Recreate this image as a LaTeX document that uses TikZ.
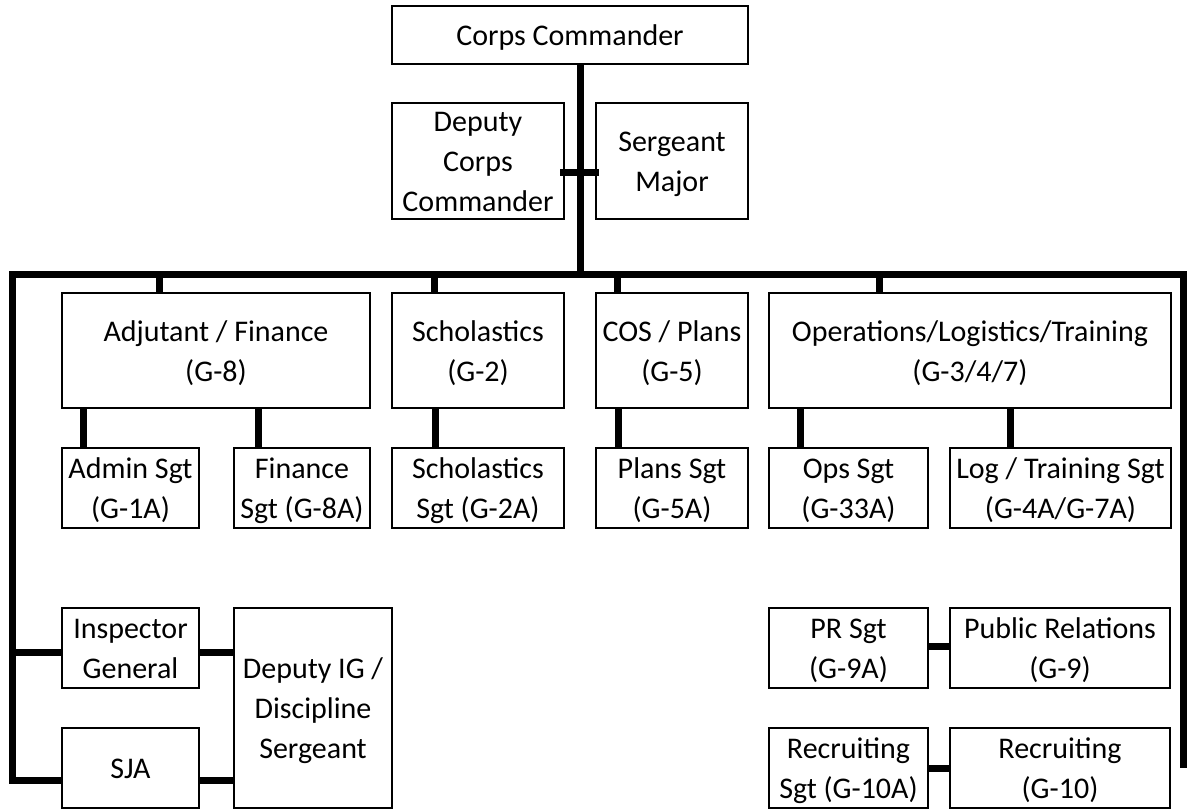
\documentclass[tikz,border=0pt]{standalone}
\usepackage{fontspec}
\setmainfont{Carlito}
% struts that fix the top of the first line and the foot of the last line
\newcommand{\upstrut}{\rule{0pt}{28pt}}
\newcommand{\dnstrut}{\rule[-7pt]{0pt}{7pt}}
\begin{document}
\begin{tikzpicture}[x=1pt,y=-1pt,
  unit/.style={draw=black, line width=2.4pt, fill=white, inner sep=0pt, align=center,
    font=\fontsize{30}{40}\selectfont, minimum height=#1},
  unit/.default=80pt,
  conn/.style={line width=7pt, line join=miter}]
\useasboundingbox (0,0) rectangle (1188,810);

% bus corners and free end
\coordinate (bl) at (12,275);
\coordinate (br) at (1183,275);
\coordinate (rend) at (1183,768);
\coordinate (tr) at (580,275);

% command group
\node[unit=58pt, minimum width=356pt] (cc) at (570,35) {\upstrut Corps Commander\dnstrut};
\node[unit=116pt, minimum width=172pt] (dcc) at (478,161) {\upstrut Deputy\\Corps\\Commander\dnstrut};
\node[unit=116pt, minimum width=152pt] (sm) at (672,161) {\upstrut Sergeant\\Major\dnstrut};

% staff sections
\node[unit=115pt, minimum width=308pt] (adj) at (216,350.5) {\upstrut Adjutant / Finance\\(G-8)\dnstrut};
\node[unit=115pt, minimum width=172pt] (sch) at (478,350.5) {\upstrut Scholastics\\(G-2)\dnstrut};
\node[unit=115pt, minimum width=152pt] (cos) at (672,350.5) {\upstrut COS / Plans\\(G-5)\dnstrut};
\node[unit=115pt, minimum width=402pt] (ops) at (970,350.5) {\upstrut Operations/Logistics/Training\\(G-3/4/7)\dnstrut};

% section sergeants
\node[unit, minimum width=137pt] (admin) at (130.5,488) {\upstrut Admin Sgt\\(G-1A)\dnstrut};
\node[unit, minimum width=136pt] (fin) at (302,488) {\upstrut Finance\\Sgt (G-8A)\dnstrut};
\node[unit, minimum width=172pt] (schs) at (478,488) {\upstrut Scholastics\\Sgt (G-2A)\dnstrut};
\node[unit, minimum width=152pt] (plans) at (672,488) {\upstrut Plans Sgt\\(G-5A)\dnstrut};
\node[unit, minimum width=159pt] (opss) at (848.5,488) {\upstrut Ops Sgt\\(G-33A)\dnstrut};
\node[unit, minimum width=221pt] (logs) at (1060.5,488) {\upstrut Log / Training Sgt\\(G-4A/G-7A)\dnstrut};

% special staff, left
\node[unit, minimum width=137pt] (ig) at (130.5,648) {\upstrut Inspector\\General\dnstrut};
\node[unit, minimum width=137pt] (sja) at (130.5,768) {\upstrut SJA\dnstrut};
\node[unit=200pt, minimum width=158pt] (dig) at (313,708) {\upstrut Deputy IG /\\Discipline\\Sergeant\dnstrut};

% special staff, right
\node[unit, minimum width=159pt] (prs) at (848.5,648) {\upstrut PR Sgt\\(G-9A)\dnstrut};
\node[unit, minimum width=220pt] (pr) at (1060,648) {\upstrut Public Relations\\(G-9)\dnstrut};
\node[unit, minimum width=159pt] (recs) at (848.5,768) {\upstrut Recruiting\\Sgt (G-10A)\dnstrut};
\node[unit, minimum width=220pt] (rec) at (1060,768) {\upstrut Recruiting\\(G-10)\dnstrut};

% trunk and cross tick
\draw[conn] (cc.south -| tr) -- (tr);
\draw[conn] ([xshift=-5pt,yshift=-12pt]dcc.east) -- ([xshift=4pt,yshift=-12pt]sm.west);

% main bus with the two side rails
\draw[conn] ([yshift=-12pt]sja.west) -| (bl) -- (br) -- (rend);
\draw[conn] ([yshift=-4pt]ig.west -| bl) -- ([yshift=-4pt]ig.west);

% drops to staff sections
\draw[conn] ([xshift=-57pt]adj.north |- bl) -- ([xshift=-57pt]adj.north);
\draw[conn] ([xshift=-44pt]sch.north |- bl) -- ([xshift=-44pt]sch.north);
\draw[conn] ([xshift=-55pt]cos.north |- bl) -- ([xshift=-55pt]cos.north);
\draw[conn] ([xshift=-91pt]ops.north |- bl) -- ([xshift=-91pt]ops.north);

% drops to section sergeants
\draw[conn] ([xshift=-47.5pt]admin.north |- adj.south) -- ([xshift=-47.5pt]admin.north);
\draw[conn] ([xshift=-44pt]fin.north |- adj.south) -- ([xshift=-44pt]fin.north);
\draw[conn] ([xshift=-43pt]schs.north |- sch.south) -- ([xshift=-43pt]schs.north);
\draw[conn] ([xshift=-54pt]plans.north |- cos.south) -- ([xshift=-54pt]plans.north);
\draw[conn] ([xshift=-48.5pt]opss.north |- ops.south) -- ([xshift=-48.5pt]opss.north);
\draw[conn] ([xshift=-50.5pt]logs.north |- ops.south) -- ([xshift=-50.5pt]logs.north);

% side links
\draw[conn] ([yshift=-4pt]ig.east) -- ([yshift=-4pt]ig.east -| dig.west);
\draw[conn] ([yshift=-12pt]sja.east) -- ([yshift=-12pt]sja.east -| dig.west);
\draw[conn] ([yshift=2pt]prs.east) -- ([yshift=2pt]prs.east -| pr.west);
\draw[conn] (recs.east) -- (rec.west);
\end{tikzpicture}
\end{document}
